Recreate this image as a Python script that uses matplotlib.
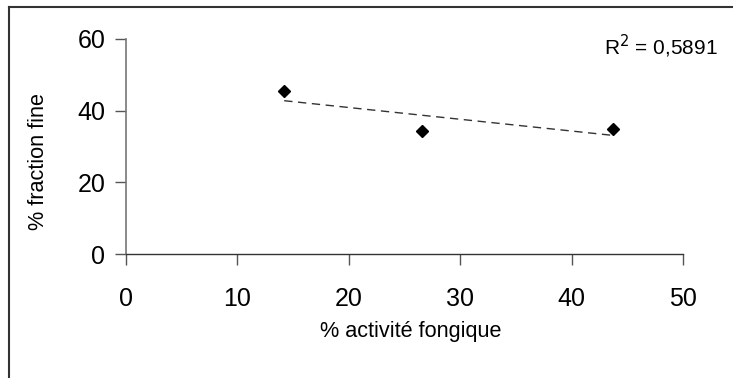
import numpy as np
import matplotlib
matplotlib.use("Agg")
import matplotlib.pyplot as plt
from matplotlib.lines import Line2D

plt.rcParams['font.family'] = ['Liberation Sans', 'DejaVu Sans']

# Measurements
activite_fongique = [14.2, 26.6, 43.7]
fraction_fine = [45.4, 34.2, 35.0]
r2_label = "R$^2$ = 0,5891"
x_ticks = [0, 10, 20, 30, 40, 50]
y_ticks = [0, 20, 40, 60]

fig = plt.figure(figsize=(7.33, 3.78), dpi=100)
ax = fig.add_axes([126 / 733, 1 - 254 / 378, (683 - 126) / 733, (254 - 39) / 378])

ax.plot(activite_fongique, fraction_fine, linestyle='none', marker='D',
        markersize=6.3, color='black', zorder=3)

# Linear trend line over the data range
coef = np.polyfit(activite_fongique, fraction_fine, 1)
xs = np.array([min(activite_fongique), max(activite_fongique)])
ax.plot(xs, np.polyval(coef, xs), linestyle=(0, (6, 4)), color='#333333',
        linewidth=1.0, zorder=2)

ax.set_xlim(0, 50)
ax.set_ylim(0, 60)
ax.set_xticks(x_ticks)
ax.set_yticks(y_ticks)
ax.tick_params(axis='x', direction='out', length=8, width=1, pad=16,
               labelsize=18, color='#555555')
ax.tick_params(axis='y', direction='out', length=8, width=1, pad=7,
               labelsize=18, color='#555555')

for side in ('top', 'right'):
    ax.spines[side].set_visible(False)
ax.spines['left'].set_color('#777777')
ax.spines['left'].set_linewidth(1.2)
ax.spines['bottom'].set_color('#333333')
ax.spines['bottom'].set_linewidth(1.0)

fig.text(411 / 733, 1 - 332 / 378, "% activité fongique", ha='center',
         va='center', fontsize=15.6)
fig.text(38 / 733, 1 - 162 / 378, "% fraction fine", ha='center',
         va='center', rotation=90, fontsize=15.6)
fig.text(661 / 733, 1 - 46 / 378, r2_label, ha='center', va='center',
         fontsize=15)

# Outer frame (top and left edges)
fig.add_artist(Line2D([9 / 733, 1.0], [1 - 7 / 378, 1 - 7 / 378],
                      transform=fig.transFigure, color='#333333', linewidth=1.5))
fig.add_artist(Line2D([9 / 733, 9 / 733], [0.0, 1 - 7 / 378],
                      transform=fig.transFigure, color='#333333', linewidth=1.5))

fig.savefig("out.png", dpi=100)
